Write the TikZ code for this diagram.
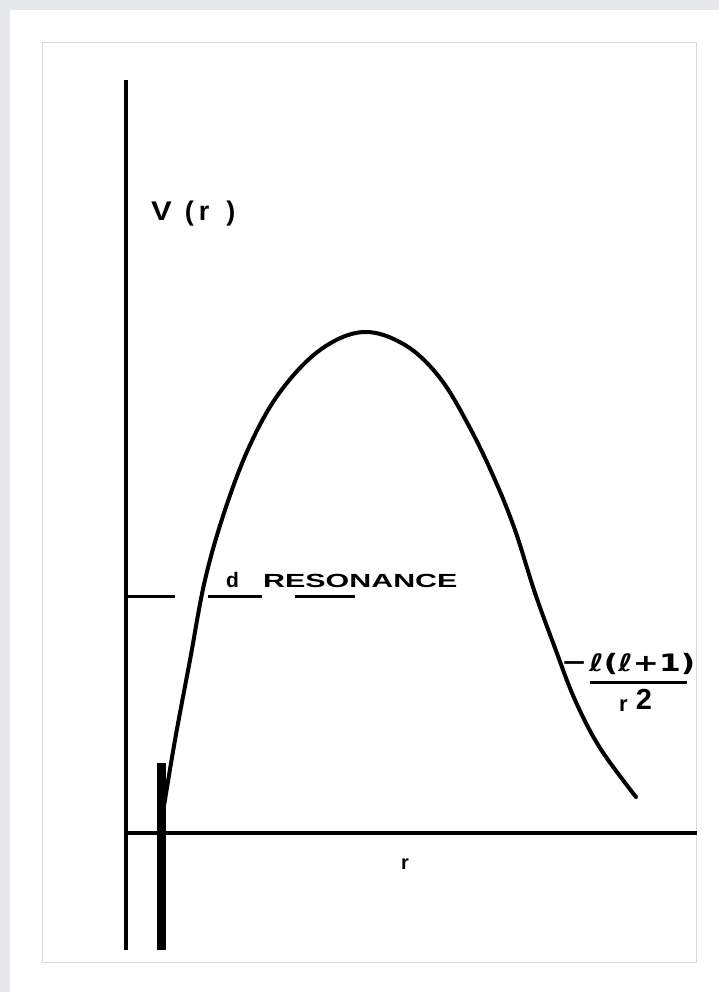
\documentclass[tikz,border=0pt]{standalone}
\usepackage{fontspec}
\setmainfont{Liberation Sans}
\newfontfamily\djv{DejaVu Sans}
\definecolor{pagegray}{HTML}{E6E9EC}
\definecolor{framegray}{HTML}{D9D9D9}
\begin{document}
\begin{tikzpicture}[x=1pt,y=-1pt,
  axis/.style={line width=4pt},
  curve/.style={line width=4pt,line cap=round,line join=round},
  lbl/.style={inner sep=0pt,font=\bfseries}]
\useasboundingbox (0,0) rectangle (719,992);
\fill[pagegray] (0,0) rectangle (719,992);
\fill[white] (10,10) rectangle (719,992);
\draw[framegray,line width=1pt] (42,43) rectangle (696,962);
% axes
\coordinate (ytop) at (126,80);
\coordinate (ybot) at (126,950);
\coordinate (origin) at (126,833);
\coordinate (xend) at (697,833);
\draw[axis] (ytop) -- (ybot);
\draw[axis] (origin) -- (xend);
% thick bar (wall)
\coordinate (bartop) at (161,763);
\coordinate (barbot) at (161,950);
\draw[line width=9pt] (bartop) -- (barbot);
% potential curve
\draw[curve] plot[smooth,tension=0.6] coordinates {
 (163,812) (175,740) (190,660) (205,580) (225,510) (250,445) (280,392)
 (320,350) (363,332) (405,345) (440,378) (470,428) (495,480) (515,530)
 (535,593) (555,648) (575,700) (600,748) (636,797)};
% resonance level (dashed)
\draw[line width=3pt] (126,596) -- (175,596);
\draw[line width=3pt] (208,596) -- (262,596);
\draw[line width=3pt] (295,596) -- (355,596);
\node[lbl,font=\bfseries\fontsize{21}{21}\selectfont,anchor=base west] (dlab) at (226,587) {d};
\node[lbl,font=\bfseries\fontsize{19}{19}\selectfont,anchor=base west] (reslab) at (263,587) {\scalebox{1.6}[1]{RESONANCE}};
% labels
\node[lbl,font=\bfseries\fontsize{27}{27}\selectfont,anchor=base west] (vlab) at (151,221) {\scalebox{1.15}[1]{V}\hspace{13pt}(\hspace{5pt}r\hspace{17pt})};
\node[lbl,font=\bfseries\fontsize{20}{20}\selectfont] (rlab) at (405,864) {r};
% centrifugal term
\node[lbl,font=\djv\bfseries\fontsize{24}{24}\selectfont,anchor=base west] (minus) at (561,670) {\scalebox{1.3}[1]{−}};
\node[lbl,font=\djv\bfseries\fontsize{24}{24}\selectfont,anchor=base west] (num) at (589,671) {\scalebox{1.3}[1]{ℓ(ℓ+1)}};
\coordinate (barL) at (590,682);
\coordinate (barR) at (687,682);
\draw[line width=3pt] (barL) -- (barR);
\node[lbl,font=\bfseries\fontsize{22}{22}\selectfont,anchor=base west] (den) at (619,711) {r\hspace{8pt}\raisebox{2pt}{\fontsize{29}{29}\selectfont 2}};
\end{tikzpicture}
\end{document}
